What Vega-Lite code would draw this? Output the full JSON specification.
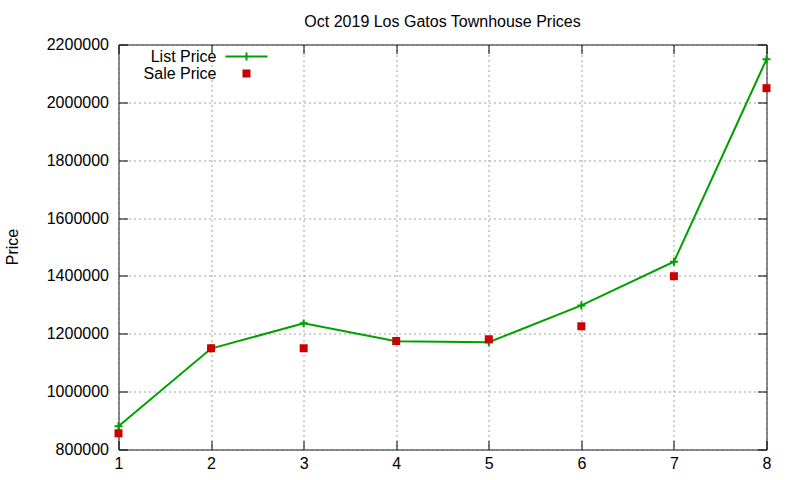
{
  "$schema": "https://vega.github.io/schema/vega-lite/v6.json",
  "width": 648,
  "height": 405,
  "autosize": "none",
  "padding": {"left": 118.5, "top": 44.5, "right": 33.5, "bottom": 30.5},
  "background": "white",
  "title": {
    "text": "Oct 2019 Los Gatos Townhouse Prices",
    "font": "Liberation Sans",
    "fontSize": 16,
    "fontWeight": "normal",
    "color": "black",
    "baseline": "alphabetic",
    "anchor": "middle",
    "offset": -6
  },
  "data": {
    "values": [
      {"x": 1, "series": "List Price", "price": 880000},
      {"x": 2, "series": "List Price", "price": 1149000},
      {"x": 3, "series": "List Price", "price": 1236000},
      {"x": 4, "series": "List Price", "price": 1174000},
      {"x": 5, "series": "List Price", "price": 1171000},
      {"x": 6, "series": "List Price", "price": 1298000},
      {"x": 7, "series": "List Price", "price": 1449000},
      {"x": 8, "series": "List Price", "price": 2149000},
      {"x": 1, "series": "Sale Price", "price": 856000},
      {"x": 2, "series": "Sale Price", "price": 1150000},
      {"x": 3, "series": "Sale Price", "price": 1150000},
      {"x": 4, "series": "Sale Price", "price": 1175000},
      {"x": 5, "series": "Sale Price", "price": 1181000},
      {"x": 6, "series": "Sale Price", "price": 1226000},
      {"x": 7, "series": "Sale Price", "price": 1399000},
      {"x": 8, "series": "Sale Price", "price": 2049000}
    ]
  },
  "config": {
    "view": {"stroke": "black", "strokeWidth": 1},
    "axis": {
      "labelFont": "Liberation Sans",
      "labelFontSize": 16,
      "labelColor": "black",
      "titleFont": "Liberation Sans",
      "titleColor": "black",
      "domain": false,
      "tickColor": "black",
      "tickSize": -9,
      "tickWidth": 1,
      "tickRound": true,
      "gridColor": "#a0a0a0",
      "gridDash": [2, 3],
      "gridWidth": 1,
      "labelFlush": false,
      "labelOverlap": false
    }
  },
  "layer": [
    {
      "transform": [{"filter": "datum.series == 'List Price'"}],
      "mark": {"type": "line", "strokeWidth": 2},
      "encoding": {
        "x": {
          "field": "x",
          "type": "quantitative",
          "scale": {"domain": [1, 8], "nice": false, "zero": false},
          "axis": {
            "orient": "bottom",
            "values": [1, 2, 3, 4, 5, 6, 7, 8],
            "format": "d",
            "title": null,
            "grid": true,
            "labelPadding": 15
          }
        },
        "y": {
          "field": "price",
          "type": "quantitative",
          "scale": {"domain": [800000, 2200000], "nice": false, "zero": false},
          "axis": {
            "orient": "left",
            "values": [800000, 1000000, 1200000, 1400000, 1600000, 1800000, 2000000, 2200000],
            "format": "d",
            "grid": true,
            "labelPadding": 19,
            "title": "Price",
            "titleFontSize": 16,
            "titleFontWeight": "normal",
            "titleAngle": -90,
            "titleAlign": "center",
            "titleBaseline": "middle",
            "titleX": -106,
            "titleY": 202
          }
        },
        "color": {
          "field": "series",
          "type": "nominal",
          "scale": {"domain": ["List Price", "Sale Price"], "range": ["#00a000", "#cc0000"]},
          "legend": {
            "orient": "none",
            "legendX": 120,
            "legendY": 4,
            "title": null,
            "padding": 0,
            "rowPadding": 1,
            "symbolSize": 36,
            "labelAlign": "right",
            "labelOffset": -38,
            "labelFont": "Liberation Sans",
            "labelFontSize": 16,
            "labelColor": "black",
            "labelLimit": 300,
            "encode": {
              "symbols": {
                "update": {
                  "shape": {"signal": "datum.value === 'List Price' ? 'M-7,0H7M0,-1.33V1.33' : 'square'"},
                  "stroke": {"signal": "datum.value === 'List Price' ? '#00a000' : '#cc0000'"},
                  "fill": {"signal": "datum.value === 'List Price' ? 'transparent' : '#cc0000'"},
                  "strokeWidth": {"value": 2},
                  "opacity": {"value": 1}
                }
              }
            }
          }
        }
      }
    },
    {
      "transform": [{"filter": "datum.series == 'List Price'"}],
      "mark": {"type": "point", "shape": "M-1.33,0H1.33M0,-1.33V1.33", "filled": false, "size": 36, "strokeWidth": 2, "color": "#00a000", "opacity": 1},
      "encoding": {
        "x": {
          "field": "x",
          "type": "quantitative",
          "axis": {
            "orient": "top",
            "values": [1, 2, 3, 4, 5, 6, 7, 8],
            "labels": false,
            "grid": false,
            "title": null
          }
        },
        "y": {
          "field": "price",
          "type": "quantitative",
          "axis": {
            "orient": "right",
            "values": [800000, 1000000, 1200000, 1400000, 1600000, 1800000, 2000000, 2200000],
            "labels": false,
            "grid": false,
            "title": null
          }
        }
      }
    },
    {
      "transform": [{"filter": "datum.series == 'Sale Price'"}],
      "mark": {"type": "square", "size": 64, "color": "#cc0000", "opacity": 1},
      "encoding": {
        "x": {"field": "x", "type": "quantitative", "axis": null},
        "y": {"field": "price", "type": "quantitative", "axis": null}
      }
    }
  ],
  "resolve": {"axis": {"x": "independent", "y": "independent"}}
}
